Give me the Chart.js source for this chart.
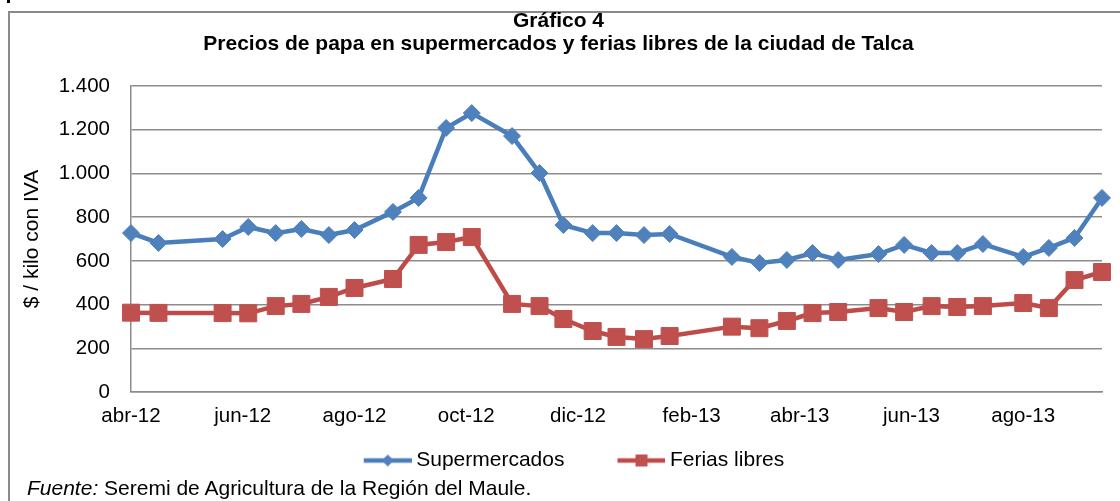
<!DOCTYPE html>
<html><head><meta charset="utf-8">
<script src="https://cdn.jsdelivr.net/npm/chart.js@4.4.1/dist/chart.umd.min.js"></script>
<style>
html,body{margin:0;padding:0;background:#fff;}
#wrap{position:relative;width:1120px;height:501px;overflow:hidden;background:#fff;}
#frame{position:absolute;left:8px;top:11px;width:1200px;height:600px;border-top:2px solid #8a8a8a;border-left:2px solid #8a8a8a;}
#mark{position:absolute;left:7px;top:0;width:3px;height:3px;background:#000;}
#c{position:absolute;left:0;top:0;}
#fuente{position:absolute;left:27px;top:476px;font:21px "Liberation Sans",Arial,sans-serif;color:#000;white-space:nowrap;}
</style></head>
<body><div id="wrap"><div id="frame"></div><div id="mark"></div><canvas id="c" width="1120" height="501"></canvas><div id="fuente"><i>Fuente:</i> Seremi de Agricultura de la Región del Maule.</div></div>
<script>
const fechas = ['2012-04-01','2012-04-16','2012-05-21','2012-06-04','2012-06-19','2012-07-03','2012-07-18','2012-08-01','2012-08-22','2012-09-05','2012-09-20','2012-10-04','2012-10-26','2012-11-10','2012-11-23','2012-12-09','2012-12-22','2013-01-06','2013-01-20','2013-02-23','2013-03-10','2013-03-25','2013-04-08','2013-04-22','2013-05-14','2013-05-28','2013-06-12','2013-06-26','2013-07-10','2013-08-01','2013-08-15','2013-08-29','2013-09-13'];
const supermercados = [727,682,700,755,727,746,718,741,824,888,1208,1276,1171,1002,764,727,727,718,723,618,590,604,636,604,631,673,636,636,677,618,659,705,888];
const feriasLibres = [363,362,361,360,393,403,435,476,517,673,686,709,403,393,334,279,252,242,256,299,292,325,361,366,384,366,393,389,393,407,384,512,549];
const xTickFechas = ['2012-04-01','2012-06-01','2012-08-01','2012-10-01','2012-12-01','2013-02-01','2013-04-01','2013-06-01','2013-08-01'];
const xTickLabels = ['abr-12','jun-12','ago-12','oct-12','dic-12','feb-13','abr-13','jun-13','ago-13'];
const yTicks = [0,200,400,600,800,1000,1200,1400];
const yTickLabels = ['0','200','400','600','800','1.000','1.200','1.400'];
const serieNombres = ['Supermercados','Ferias libres'];

const FONT = '"Liberation Sans", Arial, sans-serif';
const BLUE = '#4F81BD', BLUE_L = '#4A7EBB', RED = '#C0504D', RED_L = '#BE4B48';
const base = Date.parse(fechas[0] + 'T00:00:00Z');
const dia = s => (Date.parse(s + 'T00:00:00Z') - base) / 86400000;

function puntos(vals){ return fechas.map((f,i)=>({x: dia(f), y: vals[i]})); }

const BW = 85;
function icono(lineColor, fill, style){
  const c = document.createElement('canvas');
  c.width = BW + 12; c.height = 20;
  const g = c.getContext('2d');
  g.strokeStyle = lineColor; g.lineWidth = 4.5;
  g.beginPath(); g.moveTo(c.width - 48, 10); g.lineTo(c.width, 10); g.stroke();
  const cx = c.width - 24;
  g.fillStyle = fill;
  g.beginPath();
  if (style === 'diamond') { g.moveTo(cx-6,10); g.lineTo(cx,4); g.lineTo(cx+6,10); g.lineTo(cx,16); g.closePath(); }
  else { g.rect(cx-6,4,12,12); }
  g.fill();
  return c;
}
const iconos = [icono(BLUE_L, BLUE, 'diamond'), icono(RED_L, RED, 'square')];

Chart.defaults.font.family = FONT;
Chart.defaults.color = '#000';

const legendShift = { id:'legendShift', afterLayout(chart){ const l = chart.legend; if(l){ l.left -= 6; l.right -= 6; } } };

new Chart(document.getElementById('c'), {
  type: 'line',
  data: {
    datasets: [
      { label: serieNombres[0], data: puntos(supermercados), borderColor: BLUE_L, backgroundColor: BLUE, borderWidth: 4.5,
        pointStyle: 'rectRot', pointRadius: 8.5, pointBackgroundColor: BLUE, pointBorderColor: BLUE, pointBorderWidth: 1, clip: false, tension: 0 },
      { label: serieNombres[1], data: puntos(feriasLibres), borderColor: RED_L, backgroundColor: RED, borderWidth: 4.5,
        pointStyle: 'rect', pointRadius: 12, pointBackgroundColor: RED, pointBorderColor: RED, pointBorderWidth: 1, clip: false, tension: 0 }
    ]
  },
  options: {
    responsive: false, animation: false, devicePixelRatio: 1,
    layout: { padding: { left: 15, right: 18, top: 0, bottom: 20 } },
    plugins: {
      tooltip: { enabled: false },
      title: { display: true, text: ['Gráfico 4', 'Precios de papa en supermercados y ferias libres de la ciudad de Talca'],
        color: '#000', font: { size: 21, weight: 'bold', lineHeight: 23/21 }, padding: { top: 10, bottom: 30 } },
      legend: {
        position: 'bottom',
        labels: {
          usePointStyle: true, pointStyleWidth: BW, padding: 10, color: '#000', font: { size: 21 },
          generateLabels: (chart) => chart.data.datasets.map((d,i)=>({ text: d.label, pointStyle: iconos[i], fillStyle: d.backgroundColor, strokeStyle: d.borderColor, lineWidth: 0, hidden: false, datasetIndex: i, fontColor: '#000' }))
        }
      }
    },
    scales: {
      x: {
        type: 'linear', min: 0, max: dia(fechas[fechas.length-1]),
        grid: { display: false, drawTicks: false },
        border: { display: true, color: '#8c8c8c', width: 1.5 },
        afterBuildTicks: (s) => { s.ticks = xTickFechas.map(f => ({ value: dia(f) })); },
        afterFit: (s) => { s.height = 48; },
        ticks: { autoSkip: false, maxRotation: 0, padding: 12, font: { size: 20.5 }, color: '#000',
          callback: (v, i) => xTickLabels[i] }
      },
      y: {
        min: 0, max: 1400,
        grid: { color: '#8c8c8c', lineWidth: 1.5, drawTicks: false },
        border: { display: true, color: '#8c8c8c', width: 1.5 },
        afterBuildTicks: (s) => { s.ticks = yTicks.map(v => ({ value: v })); },
        afterFit: (s) => { s.width = 116; },
        ticks: { padding: 21, font: { size: 20.5 }, color: '#000', callback: (v) => yTickLabels[yTicks.indexOf(v)] },
        title: { display: true, text: '$ / kilo con IVA', color: '#000', font: { size: 21 }, padding: { top: 5, bottom: 0 } }
      }
    }
  },
  plugins: [legendShift]
});
</script>
</body></html>
